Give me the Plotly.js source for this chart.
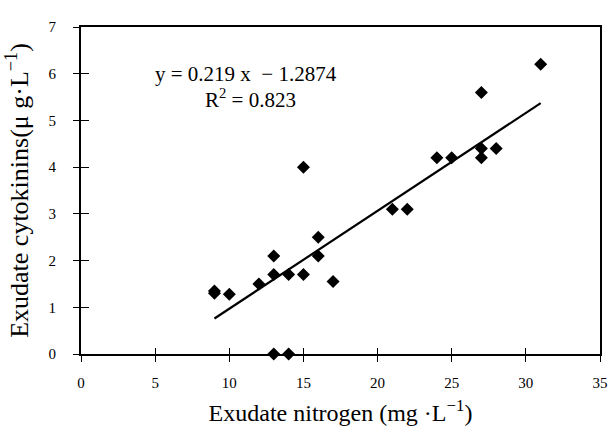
<!DOCTYPE html>
<html>
<head>
<meta charset="utf-8">
<script src="https://cdn.plot.ly/plotly-3.0.1.min.js"></script>
<style>html,body{margin:0;padding:0;background:#fff;}#chart{width:611px;height:440px;}</style>
</head>
<body>
<div id="chart"></div>
<script>
// Data
const nitrogen   = [9, 9, 10, 12, 13, 13, 13, 14, 14, 15, 15, 16, 16, 17, 21, 22, 24, 25, 27, 27, 27, 28, 31];
const cytokinins = [1.35, 1.3, 1.28, 1.5, 2.1, 1.7, 0, 1.7, 0, 1.7, 4.0, 2.5, 2.1, 1.55, 3.1, 3.1, 4.2, 4.2, 5.6, 4.4, 4.2, 4.4, 6.2];
const trendX = [9, 31];
const trendY = [0.76, 5.37];
const xTicks = [0, 5, 10, 15, 20, 25, 30, 35];
const yTicks = [0, 1, 2, 3, 4, 5, 6, 7];
const eqText = 'y = 0.219 x  \u2212 1.2874';
const r2Text = 'R<sup>2</sup> = 0.823';

const serif = "'Liberation Serif', 'Times New Roman', serif";

const traces = [
  {
    x: trendX, y: trendY, type: 'scatter', mode: 'lines',
    line: {color: '#000', width: 2.2}, hoverinfo: 'skip', showlegend: false
  },
  {
    x: nitrogen, y: cytokinins, type: 'scatter', mode: 'markers',
    marker: {symbol: 'diamond', size: 10, color: '#000'},
    cliponaxis: false, showlegend: false
  },
  {
    // carrier for the inner tick marks (invisible)
    x: trendX, y: trendY, xaxis: 'x2', yaxis: 'y2', type: 'scatter', mode: 'lines',
    line: {color: 'rgba(0,0,0,0)', width: 0}, hoverinfo: 'skip', showlegend: false
  }
];

const axisBase = {
  showgrid: false, zeroline: false,
  tickcolor: '#000', tickwidth: 1
};

const layout = {
  width: 611, height: 440,
  margin: {l: 81, r: 11, t: 27, b: 86},
  paper_bgcolor: '#fff', plot_bgcolor: '#fff',
  font: {family: serif, color: '#000'},
  showlegend: false,
  xaxis: Object.assign({}, axisBase, {
    range: [0, 35], tickvals: xTicks, ticktext: xTicks.map(String),
    showline: true, linecolor: '#000', linewidth: 2, mirror: true,
    ticks: 'outside', ticklen: 6,
    tickfont: {family: serif, size: 15, color: '#000'},
    ticklabelstandoff: 8,
    title: {text: 'Exudate nitrogen (mg \u00b7L<sup>\u22121</sup>)', font: {family: serif, size: 24, color: '#000'}, standoff: 14}
  }),
  yaxis: Object.assign({}, axisBase, {
    range: [0, 7], tickvals: yTicks, ticktext: yTicks.map(String),
    showline: true, linecolor: '#000', linewidth: 2, mirror: true,
    ticks: 'outside', ticklen: 6,
    tickfont: {family: serif, size: 15, color: '#000'},
    ticklabelstandoff: 14,
    title: {text: 'Exudate cytokinins(\u03bc g\u00b7L<sup>\u22121</sup>)', font: {family: serif, size: 26, color: '#000'}, standoff: 12}
  }),
  xaxis2: Object.assign({}, axisBase, {
    overlaying: 'x', anchor: 'y2', side: 'bottom', matches: 'x',
    range: [0, 35], tickvals: xTicks, showticklabels: false,
    showline: false, ticks: 'inside', ticklen: 6
  }),
  yaxis2: Object.assign({}, axisBase, {
    overlaying: 'y', anchor: 'x2', side: 'left',
    range: [0, 7], tickvals: yTicks, showticklabels: false,
    showline: false, ticks: 'inside', ticklen: 8
  }),
  annotations: [
    {x: 11.1, y: 6.0, xref: 'x', yref: 'y', text: eqText, showarrow: false,
     font: {family: serif, size: 21, color: '#000'}, xanchor: 'center'},
    {x: 11.4, y: 5.46, xref: 'x', yref: 'y', text: r2Text, showarrow: false,
     font: {family: serif, size: 21, color: '#000'}, xanchor: 'center'}
  ]
};

Plotly.newPlot('chart', traces, layout, {displayModeBar: false, staticPlot: true});
</script>
</body>
</html>
